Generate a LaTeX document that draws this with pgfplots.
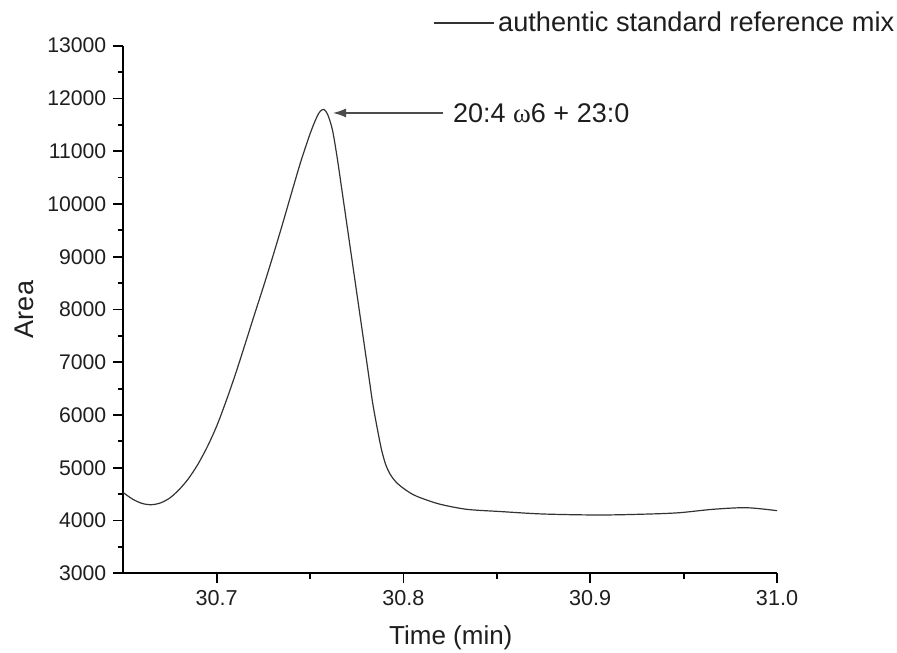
\documentclass[border=0pt]{standalone}
\usepackage{fontspec}
\setmainfont{Liberation Sans}
\newfontfamily\seriffont{Liberation Serif}
\usepackage{pgfplots}
\pgfplotsset{compat=1.18}
\usetikzlibrary{arrows.meta}
\definecolor{txt}{HTML}{1E1E1E}
\begin{document}
\begin{tikzpicture}
\begin{axis}[
  at={(61.65pt,39.35pt)}, anchor=south west,
  scale only axis, width=326.85pt, height=263.8pt,
  xmin=30.65, xmax=31.0, ymin=3000, ymax=13000,
  axis x line*=bottom, axis y line*=left,
  axis line style={line width=0.9pt, black},
  xtick={30.7,30.8,30.9,31.0},
  ytick={3000,4000,...,13000},
  minor x tick num=1, minor y tick num=1,
  tick align=outside,
  major tick length=5pt, minor tick length=2.8pt,
  every tick/.style={black, line width=0.9pt},
  /pgf/number format/assume math mode=true,
  xticklabel style={/pgf/number format/.cd, fixed, fixed zerofill, precision=1, /tikz/.cd, font=\fontsize{10.8}{12}\selectfont, text=txt},
  yticklabel style={/pgf/number format/.cd, 1000 sep={}, /tikz/.cd, font=\fontsize{10.6}{12}\selectfont, text=txt},
  scaled x ticks=false, scaled y ticks=false,
  xlabel={Time (min)}, ylabel={Area},
  xlabel style={at={(axis description cs:0.501,-0.1226)}, anchor=center, font=\fontsize{13}{15}\selectfont, text=txt},
  ylabel style={at={(axis description cs:-0.152,0.5)}, anchor=center, font=\fontsize{13.5}{15}\selectfont, text=txt},
  legend style={at={(rel axis cs:0.4737,1.043)}, anchor=west, draw=none, fill=none, inner sep=0pt, outer sep=0pt,
    font=\fontsize{13.6}{16}\selectfont, text=txt, legend cell align=left},
  legend image code/.code={\draw[#1] (-3.5pt,0pt) -- (26.5pt,0pt);},
  clip=false,
]
\addplot[color=black!80, line width=0.6pt, smooth, tension=0.5] coordinates {
(30.6500,4530) (30.6550,4405) (30.6600,4325) (30.6650,4300) (30.6700,4335)
(30.6750,4430) (30.6800,4590) (30.6850,4800) (30.6900,5070) (30.6950,5400)
(30.7000,5790) (30.7050,6260) (30.7100,6770) (30.7150,7320) (30.7200,7880)
(30.7250,8430) (30.7300,9000) (30.7350,9590) (30.7400,10200) (30.7450,10800)
(30.7500,11330) (30.7535,11640) (30.7555,11760) (30.7575,11790) (30.7595,11690)
(30.7620,11400) (30.7645,10880) (30.7670,10274) (30.7695,9662) (30.7720,9049)
(30.7758,8118) (30.7785,7457) (30.7812,6796) (30.7835,6232) (30.7860,5740)
(30.7883,5337) (30.7905,5060) (30.7930,4870) (30.7960,4730) (30.8000,4610)
(30.8050,4495) (30.8100,4420) (30.8195,4310) (30.8338,4213) (30.8517,4171)
(30.8747,4124) (30.9052,4105) (30.9318,4124) (30.9480,4149) (30.9657,4213)
(30.9837,4243) (31.0000,4187)
};
\addlegendentry{authentic standard reference mix}
\draw[gray!60!black, line width=0.6pt, -{Latex[length=6.5pt, width=4.5pt]}] (axis cs:30.8211,11725) -- (axis cs:30.7623,11725);
\node[anchor=west, inner sep=0pt, font=\fontsize{13.5}{16}\selectfont, text=txt] at (axis cs:30.8264,11725) {20:4 {\seriffont ω}6 + 23:0};
\end{axis}
\pgfresetboundingbox
\path[use as bounding box] (0,0) rectangle (448.5pt,326pt);
\end{tikzpicture}
\end{document}
